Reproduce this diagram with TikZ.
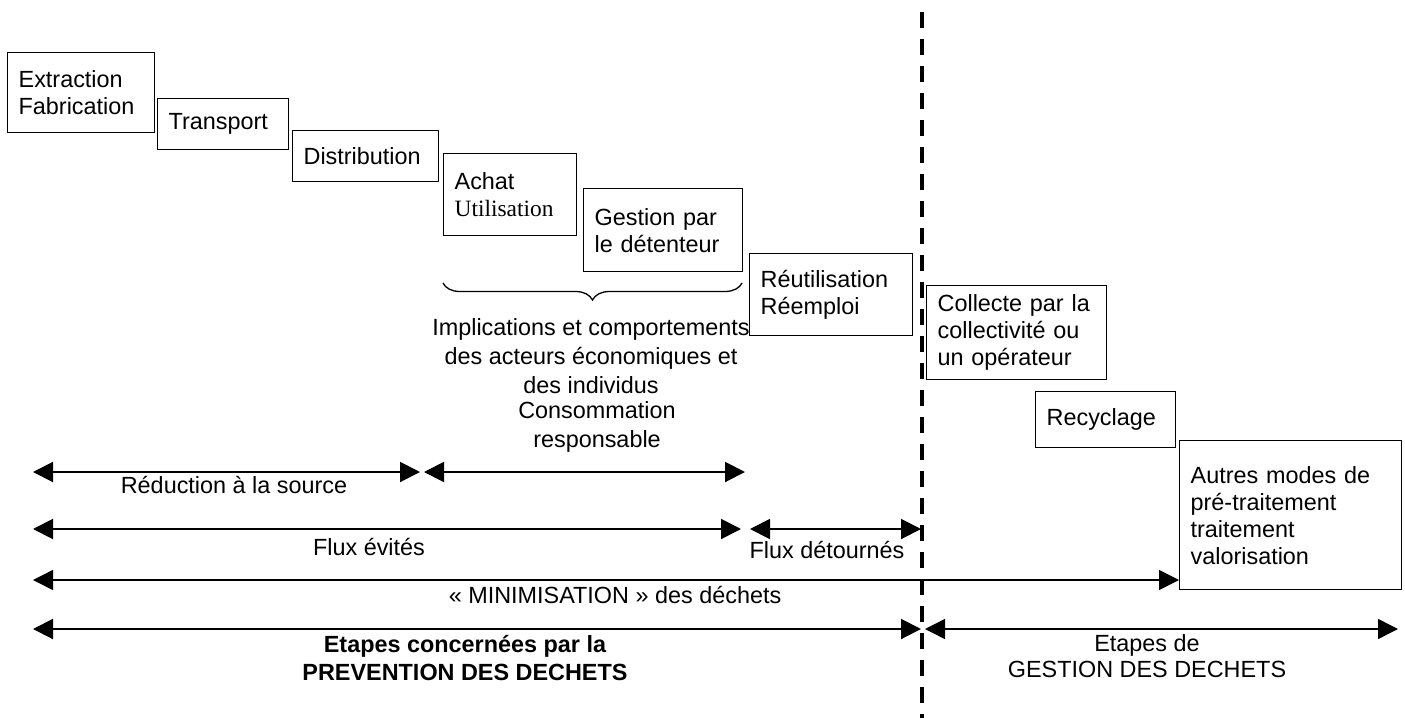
\documentclass[tikz,border=0pt]{standalone}
\usepackage{fontspec}
\setmainfont{Liberation Sans}
\newfontfamily\timesfont{Liberation Serif}
\usetikzlibrary{arrows.meta, decorations.pathreplacing}

\begin{document}
\begin{tikzpicture}[x=1pt,y=-1pt,font=\fontsize{23.4}{27}\selectfont,
  etape/.style={draw,line width=1.3pt,anchor=north west,align=left,inner xsep=11pt,inner ysep=0pt},
  legende/.style={align=center,inner sep=0pt,font=\fontsize{23.4}{29}\selectfont},
  fleche/.style={line width=2pt,{Triangle[length=20pt,width=20pt]}-{Triangle[length=20pt,width=20pt]}},
  flechefine/.style={line width=1.5pt,{Triangle[length=20pt,width=20pt]}-{Triangle[length=20pt,width=20pt]}},
  separation/.style={line width=4pt,dash pattern=on 16pt off 11pt},
  accolade/.style={line width=1.3pt,decorate,decoration={brace,mirror,amplitude=17pt}}]
  \useasboundingbox (0,0) rectangle (1405,718);
  \node[etape,text width=125pt,minimum height=80pt] (extr) at (7,52) {Extraction\\Fabrication};
  \node[etape,text width=109pt,minimum height=51pt] (transp) at (157,98) {Transport};
  \node[etape,text width=124pt,minimum height=51pt] (distr) at (292,130) {Distribution};
  \node[etape,text width=111pt,minimum height=82pt] (achat) at (443,153) {Achat\\{\timesfont Utilisation}};
  \node[etape,text width=137pt,minimum height=83pt] (gest) at (583,188) {Gestion par\\le détenteur};
  \node[etape,text width=141pt,minimum height=82pt] (reut) at (749,253) {Réutilisation\\Réemploi};
  \node[etape,text width=158pt,minimum height=94pt] (coll) at (926,285) {Collecte par la\\collectivité ou\\un opérateur};
  \node[etape,text width=118pt,minimum height=56pt] (recy) at (1035,391) {Recyclage};
  \node[etape,text width=200pt,minimum height=149pt] (autres) at (1179,440) {Autres modes de\\pré-traitement\\traitement\\valorisation};

  \coordinate (sep-h) at (922,12); \coordinate (sep-b) at (922,718);
  \draw[separation] (sep-h) -- (sep-b);

  \coordinate (acc-g) at (443,283); \coordinate (acc-d) at (742,283);
  \draw[accolade] (acc-g) -- (acc-d);
  \node[legende] (impl) at (591,356) {Implications et comportements\\des acteurs économiques et\\des individus};
  \node[legende] (conso) at (597,427) {Consommation\\responsable};

  \coordinate (red-g) at (33,472); \coordinate (red-d) at (420,472);
  \coordinate (cons-g) at (424,472); \coordinate (cons-d) at (745,472);
  \draw[fleche] (red-g) -- (red-d);
  \draw[fleche] (cons-g) -- (cons-d);
  \node[legende] (red) at (234,485) {Réduction à la source};

  \coordinate (evit-g) at (33,529); \coordinate (evit-d) at (741,529);
  \coordinate (detour-g) at (750,529); \coordinate (detour-d) at (921,529);
  \draw[fleche] (evit-g) -- (evit-d);
  \draw[fleche] (detour-g) -- (detour-d);
  \node[legende] (evit) at (369,547) {Flux évités};
  \node[legende] (detour) at (827,550) {Flux détournés};

  \coordinate (mini-g) at (33,580);
  \draw[flechefine] (mini-g) -- (mini-g -| autres.west);
  \node[legende] (mini) at (615,595) {« MINIMISATION » des déchets};

  \coordinate (prev-g) at (33,629); \coordinate (prev-d) at (921,629);
  \coordinate (gdd-g) at (925,629); \coordinate (gdd-d) at (1398,629);
  \draw[fleche] (prev-g) -- (prev-d);
  \draw[flechefine] (gdd-g) -- (gdd-d);
  \node[legende,font=\fontsize{23.4}{28}\selectfont\bfseries] (prev) at (465,658) {Etapes concernées par la\\PREVENTION DES DECHETS};
  \node[legende,font=\fontsize{23.4}{26}\selectfont] (gdd) at (1147,656) {Etapes de\\GESTION DES DECHETS};
\end{tikzpicture}
\end{document}
